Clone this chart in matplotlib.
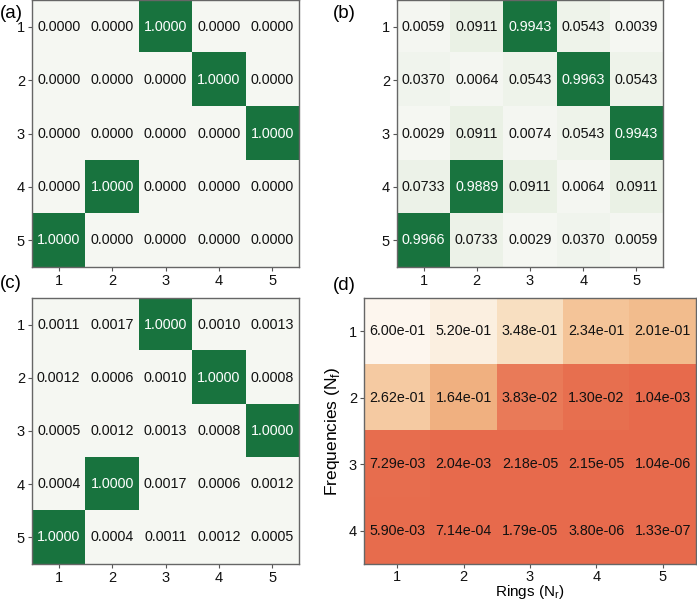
import numpy as np
import matplotlib.pyplot as plt
from matplotlib.colors import LinearSegmentedColormap

plt.rcParams['font.family'] = ['Liberation Sans', 'DejaVu Sans']
plt.rcParams['mathtext.fontset'] = 'custom'
plt.rcParams['mathtext.rm'] = 'Liberation Sans'

# panel (a): ideal assignment matrix
mat_a = [
    [0.0000, 0.0000, 1.0000, 0.0000, 0.0000],
    [0.0000, 0.0000, 0.0000, 1.0000, 0.0000],
    [0.0000, 0.0000, 0.0000, 0.0000, 1.0000],
    [0.0000, 1.0000, 0.0000, 0.0000, 0.0000],
    [1.0000, 0.0000, 0.0000, 0.0000, 0.0000],
]

# panel (b)
mat_b = [
    [0.0059, 0.0911, 0.9943, 0.0543, 0.0039],
    [0.0370, 0.0064, 0.0543, 0.9963, 0.0543],
    [0.0029, 0.0911, 0.0074, 0.0543, 0.9943],
    [0.0733, 0.9889, 0.0911, 0.0064, 0.0911],
    [0.9966, 0.0733, 0.0029, 0.0370, 0.0059],
]

# panel (c)
mat_c = [
    [0.0011, 0.0017, 1.0000, 0.0010, 0.0013],
    [0.0012, 0.0006, 0.0010, 1.0000, 0.0008],
    [0.0005, 0.0012, 0.0013, 0.0008, 1.0000],
    [0.0004, 1.0000, 0.0017, 0.0006, 0.0012],
    [1.0000, 0.0004, 0.0011, 0.0012, 0.0005],
]

# panel (d): frequencies (rows) x rings (cols)
mat_d = [
    [6.00e-01, 5.20e-01, 3.48e-01, 2.34e-01, 2.01e-01],
    [2.62e-01, 1.64e-01, 3.83e-02, 1.30e-02, 1.04e-03],
    [7.29e-03, 2.04e-03, 2.18e-05, 2.15e-05, 1.04e-06],
    [5.90e-03, 7.14e-04, 1.79e-05, 3.80e-06, 1.33e-07],
]
rings = [1, 2, 3, 4, 5]
freqs = [1, 2, 3, 4]
idx5 = [1, 2, 3, 4, 5]

greens = LinearSegmentedColormap.from_list(
    'g', [(0.0, '#f5f7f2'), (0.1, '#e9f1e4'), (1.0, '#18733e')])
oranges = LinearSegmentedColormap.from_list(
    'o', [(0.0, '#e76a4c'), (0.3, '#f2b886'), (0.6, '#f9e2c6'), (1.0, '#fdf6ee')])

W, H = 697, 601
fig = plt.figure(figsize=(W / 100, H / 100), dpi=100)


def px_axes(x0, y0, x1, y1):
    return fig.add_axes([x0 / W, 1 - y1 / H, (x1 - x0) / W, (y1 - y0) / H])


def style(ax, xt, yt):
    ax.set_xticks(range(len(xt)))
    ax.set_xticklabels(xt)
    ax.set_yticks(range(len(yt)))
    ax.set_yticklabels(yt)
    ax.tick_params(labelsize=10.5, color='#555555', length=3, width=0.8, pad=2,
                   labelcolor='#111111')
    for s in ax.spines.values():
        s.set_color('#666666')
        s.set_linewidth(1.0)


def green_panel(ax, mat):
    m = np.array(mat)
    ax.imshow(m, cmap=greens, vmin=0, vmax=1, aspect='auto')
    for i in range(m.shape[0]):
        for j in range(m.shape[1]):
            c = 'white' if m[i, j] > 0.5 else '#111111'
            ax.text(j, i, f"{m[i, j]:.4f}", ha='center', va='center',
                    fontsize=10.3, color=c)
    style(ax, idx5, idx5)


ax_a = px_axes(32, 0, 299, 267)
green_panel(ax_a, mat_a)
ax_b = px_axes(397, 0, 663, 267)
green_panel(ax_b, mat_b)
ax_c = px_axes(32, 298, 299, 564)
green_panel(ax_c, mat_c)

ax_d = px_axes(364, 298, 696, 564)
md = np.array(mat_d)
ax_d.imshow(md, cmap=oranges, vmin=0, vmax=0.6, aspect='auto')
for i in range(md.shape[0]):
    for j in range(md.shape[1]):
        ax_d.text(j, i, f"{md[i, j]:.2e}", ha='center', va='center',
                  fontsize=10.3, color='#111111')
style(ax_d, rings, freqs)
ax_d.tick_params(axis='x', pad=1)
ax_d.set_xlabel(r'Rings (N$_\mathrm{r}$)', fontsize=11, labelpad=-0.5)
ax_d.set_ylabel(r'Frequencies (N$_\mathrm{f}$)', fontsize=12.5, labelpad=5)

for lbl, x, y in [('(a)', 0, 14), ('(b)', 333, 14), ('(c)', 0, 284), ('(d)', 333, 286)]:
    fig.text(x / W, 1 - y / H, lbl, fontsize=13.5, ha='left', va='center')

fig.savefig('out.png', dpi=100)
